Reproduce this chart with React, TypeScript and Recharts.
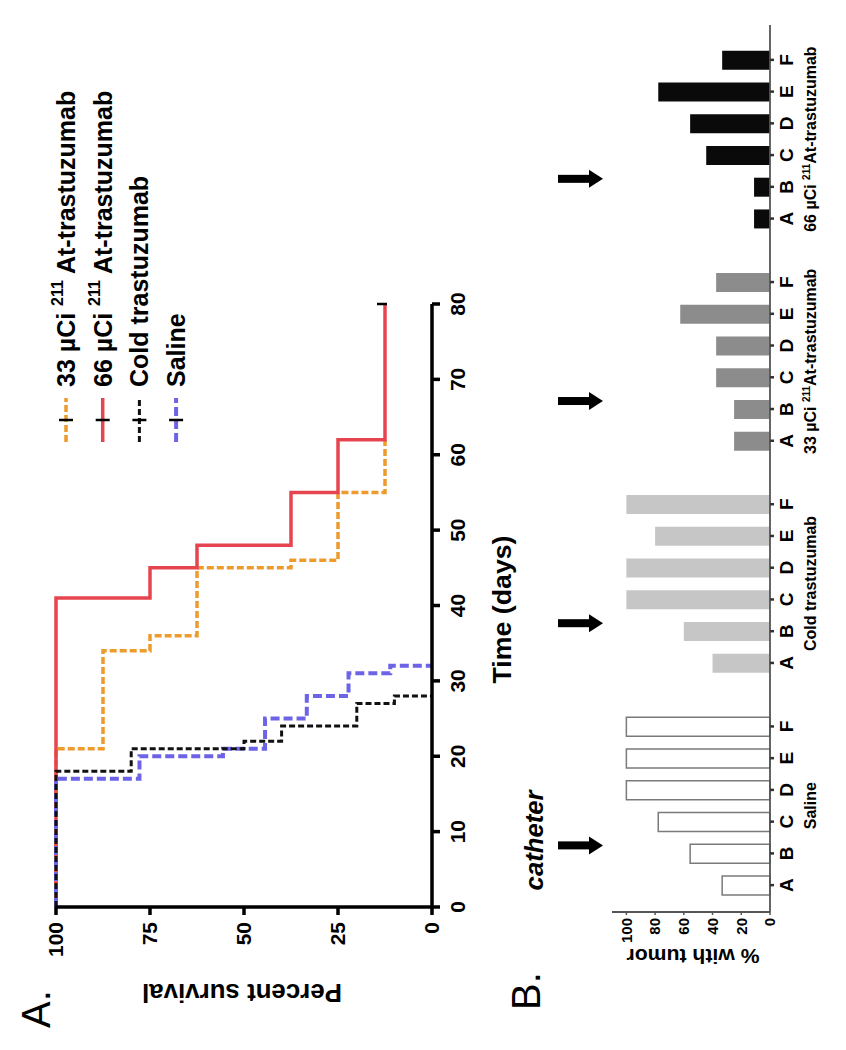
import React from 'react';
import {
  LineChart,
  Line,
  BarChart,
  Bar,
  Cell,
  XAxis,
  YAxis,
  Legend,
  ReferenceLine,
} from 'recharts';

const FONT = '"Liberation Sans", Arial, Helvetica, sans-serif';

// Panel A: Kaplan-Meier steps (day, % surviving)
const days33 = [0, 21, 34, 36, 45, 46, 55, 62];
const surv33 = [100, 87.5, 75, 62.5, 37.5, 25, 12.5, 12.5];
const days66 = [0, 41, 45, 48, 55, 62, 80];
const surv66 = [100, 75, 62.5, 37.5, 25, 12.5, 12.5];
const daysCold = [0, 18, 21, 22, 24, 27, 28];
const survCold = [100, 80, 50, 40, 20, 10, 0];
const daysSaline = [0, 17, 20, 21, 25, 28, 31, 32];
const survSaline = [100, 77.8, 55.6, 44.4, 33.3, 22.2, 11.1, 0];

const dayTicks = [0, 10, 20, 30, 40, 50, 60, 70, 80];
const survivalTicks = [0, 25, 50, 75, 100];

// Panel B: % with tumor per site
const sites = ['A', 'B', 'C', 'D', 'E', 'F'];
const groupNames = ['saline', 'cold', 'at33', 'at66'];
const salineTumor = [33.3, 55.6, 77.8, 100, 100, 100];
const coldTumor = [40, 60, 100, 100, 80, 100];
const at33Tumor = [25, 25, 37.5, 37.5, 62.5, 37.5];
const at66Tumor = [11.1, 11.1, 44.4, 55.6, 77.8, 33.3];
const tumorTicks = [0, 20, 40, 60, 80, 100];

const zip = (t: number[], p: number[]) => t.map((d, i) => ({ t: d, p: p[i] }));

const series = [
  { key: 'at33', data: zip(days33, surv33), color: '#EE9B2E', dash: '7 3', width: 3.5, censor: false },
  { key: 'at66', data: zip(days66, surv66), color: '#E6454F', dash: undefined, width: 3.5, censor: true },
  { key: 'saline', data: zip(daysSaline, survSaline), color: '#6C63E6', dash: '9 4', width: 4, censor: false },
  { key: 'cold', data: zip(daysCold, survCold), color: '#111111', dash: '6 3', width: 3, censor: false },
];

const legendOrder = [
  { key: 'at33', pre: '33 µCi ', sup: '211', post: 'At-trastuzumab' },
  { key: 'at66', pre: '66 µCi ', sup: '211', post: 'At-trastuzumab' },
  { key: 'cold', pre: 'Cold trastuzumab', sup: '', post: '' },
  { key: 'saline', pre: 'Saline', sup: '', post: '' },
];

const groupFill: Record<string, string> = {
  saline: '#ffffff',
  cold: '#C6C6C6',
  at33: '#8C8C8C',
  at66: '#0a0a0a',
};

const groupValues: Record<string, number[]> = {
  saline: salineTumor,
  cold: coldTumor,
  at33: at33Tumor,
  at66: at66Tumor,
};

const tumorRows: { key: string; site: string; group: string; value: number | null }[] = [];
groupNames.forEach((g, gi) => {
  sites.forEach((s, i) => tumorRows.push({ key: `${g}-${s}`, site: s, group: g, value: groupValues[g][i] }));
  if (gi < groupNames.length - 1) tumorRows.push({ key: `gap-${g}`, site: '', group: g, value: null });
});

const makeDot = (n: number, censor: boolean) => (props: any) => {
  const { cx, cy, index } = props;
  if (!censor || index !== n - 1) return <g key={`d-${index}`} />;
  return <line key={`d-${index}`} x1={cx} x2={cx} y1={cy - 8} y2={cy + 2} stroke="#000" strokeWidth={2.5} />;
};

const renderLegend = () => (
  <svg width={440} height={170} style={{ overflow: 'visible' }}>
    {legendOrder.map((item, i) => {
      const s = series.find((x) => x.key === item.key)!;
      const y = 26 + i * 36.7;
      return (
        <g key={item.key}>
          <line x1={8} x2={52} y1={y} y2={y} stroke={s.color} strokeWidth={s.width} strokeDasharray={s.dash} />
          <line x1={30} x2={30} y1={y - 7} y2={y + 7} stroke="#000" strokeWidth={2.5} />
          <text x={63} y={y + 9} fontFamily={FONT} fontWeight="bold" fontSize={25} fill="#000">
            <tspan>{item.pre}</tspan>
            {item.sup && (
              <tspan dy={-12} fontSize={16}>
                {item.sup}
              </tspan>
            )}
            {item.post && <tspan dy={item.sup ? 12 : 0}>{' ' + item.post}</tspan>}
          </text>
        </g>
      );
    })}
  </svg>
);

const groupLabel = (g: string) => {
  if (g === 'saline') return <tspan>Saline</tspan>;
  if (g === 'cold') return <tspan>Cold trastuzumab</tspan>;
  const dose = g === 'at33' ? '33' : '66';
  return (
    <>
      <tspan>{dose} µCi </tspan>
      <tspan dy={-6} fontSize={10}>211</tspan>
      <tspan dy={6}>At-trastuzumab</tspan>
    </>
  );
};

const SiteTick = (props: any) => {
  const { x, y, payload } = props;
  const row = tumorRows.find((r) => r.key === payload.value);
  if (!row || !row.site) return <g />;
  return (
    <g>
      <line x1={x} x2={x} y1={y} y2={y + 4} stroke="#333" strokeWidth={2.5} />
      <text x={x} y={y + 23} textAnchor="middle" fontFamily={FONT} fontWeight="bold" fontSize={19} fill="#000">
        {row.site}
      </text>
      {row.site === 'C' && (
        <text x={x + 16} y={y + 46} textAnchor="middle" fontFamily={FONT} fontWeight="bold" fontSize={16} fill="#000">
          {groupLabel(row.group)}
        </text>
      )}
    </g>
  );
};

const arrowLabel = (withText: boolean) => (props: any) => {
  const vb = props.viewBox || { x: 0, y: 0 };
  const x = vb.x + 8;
  const top = vb.y - 54;
  const tip = vb.y - 9;
  return (
    <g>
      <rect x={x - 4} y={top} width={8} height={tip - top - 12} fill="#000" />
      <path d={`M${x - 9},${tip - 14} L${x + 9},${tip - 14} L${x},${tip} Z`} fill="#000" />
      {withText && (
        <text
          x={x + 5}
          y={vb.y - 69}
          textAnchor="middle"
          fontFamily={FONT}
          fontWeight="bold"
          fontStyle="italic"
          fontSize={26}
          textLength={100}
          lengthAdjust="spacingAndGlyphs"
          fill="#000"
        >
          catheter
        </text>
      )}
    </g>
  );
};

const tickFontA = { fontFamily: FONT, fontWeight: 'bold', fontSize: 21, fill: '#000' };
const tickFontB = { fontFamily: FONT, fontWeight: 'bold', fontSize: 15, fill: '#000' };

export default function App() {
  return (
    <>
      <style>{'body{margin:0;overflow:hidden;background:#fff}'}</style>
      <div
        style={{
          position: 'absolute',
          left: 0,
          top: 0,
          width: 1050,
          height: 846,
          transformOrigin: '0 0',
          transform: 'translateY(1050px) rotate(-90deg)',
          background: '#fff',
        }}
      >
        <div style={{ position: 'absolute', left: 0, top: 0 }}>
          <LineChart width={1050} height={520} margin={{ top: 56, right: 304, bottom: 8, left: 43 }}>
            <XAxis
              dataKey="t"
              type="number"
              domain={[0, 80]}
              ticks={dayTicks}
              height={80}
              axisLine={{ stroke: '#000', strokeWidth: 3.5 }}
              tickLine={{ stroke: '#000', strokeWidth: 3.5 }}
              tickSize={8}
              tickMargin={10}
              tick={tickFontA}
              label={(p: any) => {
                const vb = p.viewBox || { x: 0, y: 0, width: 0 };
                return (
                  <text
                    x={vb.x + vb.width / 2 - 4}
                    y={vb.y + 79}
                    textAnchor="middle"
                    fontFamily={FONT}
                    fontWeight="bold"
                    fontSize={26}
                    textLength={148}
                    lengthAdjust="spacingAndGlyphs"
                  >
                    Time (days)
                  </text>
                );
              }}
            />
            <YAxis
              type="number"
              domain={[0, 100]}
              ticks={survivalTicks}
              width={100}
              axisLine={{ stroke: '#000', strokeWidth: 3.5 }}
              tickLine={{ stroke: '#000', strokeWidth: 3.5 }}
              tickSize={8}
              tickMargin={7}
              tick={tickFontA}
              label={(p: any) => {
                const vb = p.viewBox || { x: 0, y: 0, width: 0, height: 0 };
                const cx = vb.x + vb.width - 86;
                const cy = vb.y + vb.height / 2 - 2;
                return (
                  <text
                    x={cx}
                    y={cy + 9}
                    transform={`rotate(-90, ${cx}, ${cy})`}
                    textAnchor="middle"
                    fontFamily={FONT}
                    fontWeight="bold"
                    fontSize={25}
                    textLength={200}
                    lengthAdjust="spacingAndGlyphs"
                  >
                    Percent survival
                  </text>
                );
              }}
            />
            <Legend
              content={renderLegend}
              layout="vertical"
              align="center"
              verticalAlign="middle"
              wrapperStyle={{ left: 600, top: 40, width: 440, height: 170 }}
            />
            {series.map((s) => (
              <Line
                key={s.key}
                data={s.data}
                dataKey="p"
                type="stepAfter"
                stroke={s.color}
                strokeWidth={s.width}
                strokeDasharray={s.dash}
                dot={makeDot(s.data.length, s.censor)}
                activeDot={false}
                isAnimationActive={false}
              />
            ))}
          </LineChart>
        </div>

        <div style={{ position: 'absolute', left: 0, top: 500 }}>
          <BarChart
            width={1050}
            height={346}
            data={tumorRows}
            margin={{ top: 112, right: 25, bottom: 0, left: 38 }}
            barSize={19}
          >
            <XAxis
              dataKey="key"
              type="category"
              interval={0}
              padding={{ left: 11, right: 19 }}
              height={76}
              axisLine={{ stroke: '#555', strokeWidth: 1.8 }}
              tickLine={false}
              tickSize={0}
              tickMargin={0}
              tick={<SiteTick />}
            />
            <YAxis
              type="number"
              domain={[0, 110]}
              ticks={tumorTicks}
              width={100}
              axisLine={{ stroke: '#555', strokeWidth: 1.8 }}
              tickLine={{ stroke: '#555', strokeWidth: 1.5 }}
              tickSize={3}
              tickMargin={3}
              tick={tickFontB}
              label={(p: any) => {
                const vb = p.viewBox || { x: 0, y: 0, width: 0, height: 0 };
                const cx = vb.x + vb.width - 44;
                const cy = vb.y + vb.height / 2 + 2;
                return (
                  <text
                    x={cx}
                    y={cy + 7}
                    transform={`rotate(-90, ${cx}, ${cy})`}
                    textAnchor="middle"
                    fontFamily={FONT}
                    fontWeight="bold"
                    fontSize={21}
                    textLength={133}
                    lengthAdjust="spacingAndGlyphs"
                  >
                    % with tumor
                  </text>
                );
              }}
            />
            {groupNames.map((g, i) => (
              <ReferenceLine
                key={g}
                x={`${g}-B`}
                stroke="none"
                ifOverflow="visible"
                label={arrowLabel(i === 0)}
              />
            ))}
            <Bar dataKey="value" isAnimationActive={false}>
              {tumorRows.map((r) => (
                <Cell
                  key={r.key}
                  fill={groupFill[r.group]}
                  stroke={r.group === 'saline' ? '#7a7a7a' : 'none'}
                  strokeWidth={1.5}
                />
              ))}
            </Bar>
          </BarChart>
        </div>

        <svg width={1050} height={846} style={{ position: 'absolute', left: 0, top: 0, pointerEvents: 'none' }}>
          <text x={22} y={50} fontFamily={FONT} fontSize={40} fill="#000">
            A.
          </text>
          <text x={40} y={540} fontFamily={FONT} fontSize={40} fill="#000">
            B.
          </text>
        </svg>
      </div>
    </>
  );
}
